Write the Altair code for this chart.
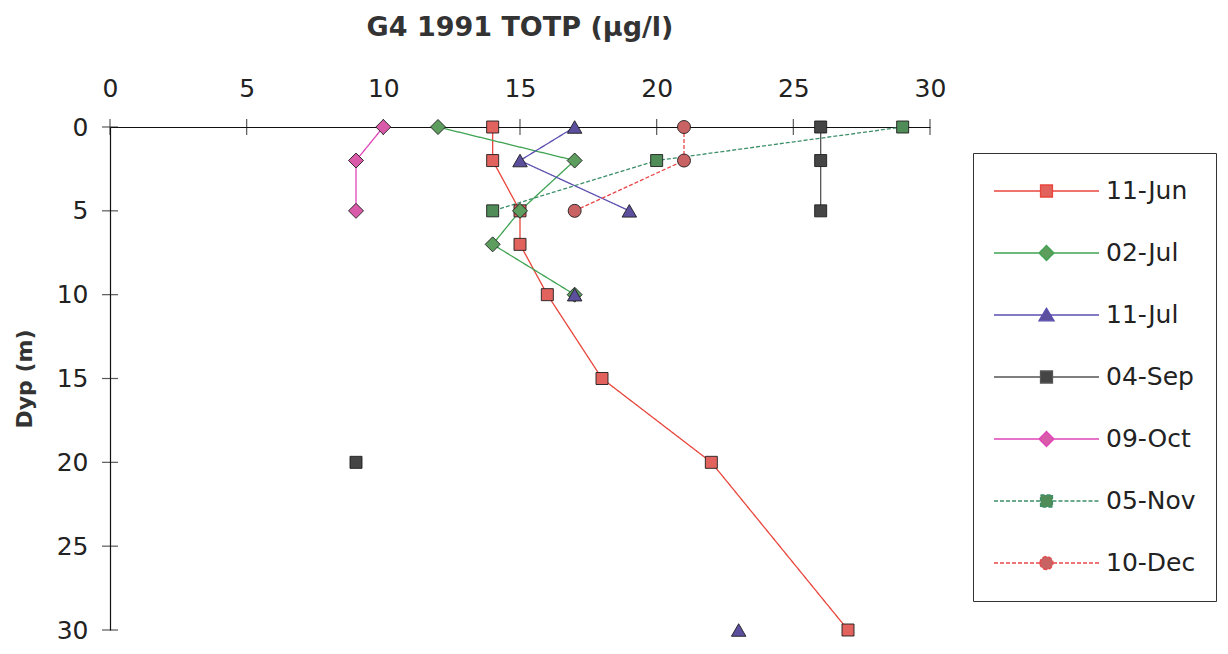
import altair as alt
import pandas as pd

# ---------------- data ----------------
depths = [0, 2, 5, 7, 10, 15, 20, 30]
series_names = ["11-Jun", "02-Jul", "11-Jul", "04-Sep", "09-Oct", "05-Nov", "10-Dec"]
jun11 = [14, 14, 15, 15, 16, 18, 22, 27]
jul02 = [12, 17, 15, 14, 17, None, None, None]
jul11 = [17, 15, 19, None, 17, None, None, 23]
sep04 = [26, 26, 26, None, None, None, 9, None]
oct09 = [10, 9, 9, None, None, None, None, None]
nov05 = [29, 20, 14, None, None, None, None, None]
dec10 = [21, 21, 17, None, None, None, None, None]
x_ticks = [0, 5, 10, 15, 20, 25, 30]
y_ticks = [0, 5, 10, 15, 20, 25, 30]
title_text = "G4 1991 TOTP (µg/l)"
y_title = "Dyp (m)"

# ---------------- styles ----------------
line_colors = ["#e8463c", "#3fa352", "#5a4fb0", "#555555", "#e044b8", "#3d8f6a", "#e8484a"]
fill_colors = ["#e2625e", "#5d9e5e", "#5b4f9e", "#454545", "#d85aa8", "#4f8c58", "#c96262"]
dashes = [[1, 0], [1, 0], [1, 0], [1, 0], [1, 0], [4, 2], [4, 2]]
markers = ["square", "diamond", "triangle-up", "square", "diamond", "square", "circle"]
marker_sizes = {"square": 144, "diamond": 225, "triangle-up": 210, "circle": 169}
legend_paths = {
    "square": "M-1,0H-0.114M-0.114,-0.114H0.114V0.114H-0.114ZM0.114,0H1",
    "diamond": "M-1,0H-0.143M0,-0.143L0.143,0L0,0.143L-0.143,0ZM0.143,0H1",
    "triangle-up": "M-1,0H-0.075M0,-0.13L0.143,0.11L-0.143,0.11ZM0.075,0H1",
    "circle": ("M-1,0H-0.124M-0.124,0C-0.124,-0.0685,-0.0685,-0.124,0,-0.124"
               "C0.0685,-0.124,0.124,-0.0685,0.124,0C0.124,0.0685,0.0685,0.124,0,0.124"
               "C-0.0685,0.124,-0.124,0.0685,-0.124,0ZM0.124,0H1"),
}
FONT = "DejaVu Sans"

values = [jun11, jul02, jul11, sep04, oct09, nov05, dec10]
rows = []
for name, vals, mk in zip(series_names, values, markers):
    seg = 0
    prev_none = False
    for d, v in zip(depths, vals):
        if v is None:
            prev_none = True
            continue
        if prev_none:
            seg += 1
            prev_none = False
        rows.append({"series": name, "depth": d, "totp": v, "marker": mk,
                     "seg": f"{name}-{seg}"})
df = pd.DataFrame(rows)
ticks_df = pd.DataFrame({"v": x_ticks})
yticks_df = pd.DataFrame({"v": y_ticks})

stroke_scale = alt.Scale(domain=series_names, range=line_colors)
fill_scale = alt.Scale(domain=series_names, range=fill_colors)
dash_scale = alt.Scale(domain=series_names, range=dashes)
shape_scale = alt.Scale(domain=series_names, range=[legend_paths[m] for m in markers])

x_scale = alt.Scale(domain=[0, 30], nice=False, zero=False)
y_scale = alt.Scale(domain=[0, 30], reverse=True, nice=False, zero=False)

x_enc = alt.X("totp:Q", scale=x_scale,
              axis=alt.Axis(orient="top", values=x_ticks, title=None, grid=False,
                            ticks=False, tickSize=0, labelPadding=26, labelFontSize=25,
                            labelFlush=False, labelFont=FONT, labelColor="#222",
                            domainColor="#111", domainWidth=1.2))
y_enc = alt.Y("depth:Q", scale=y_scale,
              axis=alt.Axis(values=y_ticks, title=y_title, grid=False, ticks=False,
                            tickSize=0, labelPadding=22, labelFontSize=25, labelFont=FONT,
                            labelFlush=False, labelColor="#222", domainColor="#111",
                            domainWidth=1.2, titleFont=FONT, titleFontSize=22,
                            titleFontWeight="bold", titleColor="#333", titlePadding=20))

leg = dict(title=None, orient="none", legendX=863, legendY=26, padding=20,
           clipHeight=36, rowPadding=26, symbolSize=11025, symbolStrokeWidth=1.3,
           labelFontSize=25, labelFont=FONT, labelColor="#222", labelOffset=6,
           strokeColor="#333", fillColor="white", symbolOffset=0)

legend_layer = alt.Chart(df).transform_filter("datum.depth < 0").mark_point(
    filled=True, opacity=1).encode(
    x=x_enc, y=y_enc,
    fill=alt.Fill("series:N", scale=fill_scale, legend=alt.Legend(**leg)),
    stroke=alt.Stroke("series:N", scale=stroke_scale, legend=alt.Legend(**leg)),
    shape=alt.Shape("series:N", scale=shape_scale, legend=alt.Legend(**leg)),
    strokeDash=alt.StrokeDash("series:N", scale=dash_scale, legend=alt.Legend(**leg)),
)

lines = alt.Chart(df).mark_line(strokeWidth=1.3).encode(
    x="totp:Q", y="depth:Q",
    stroke=alt.Stroke("series:N", scale=stroke_scale, legend=None),
    strokeDash=alt.StrokeDash("series:N", scale=dash_scale, legend=None),
    detail="seg:N",
    order="depth:Q",
)

point_layers = []
for m in ["square", "diamond", "triangle-up", "circle"]:
    point_layers.append(
        alt.Chart(df).transform_filter(alt.datum.marker == m)
        .mark_point(shape=m, filled=True, size=marker_sizes[m], stroke="#1e1e1e",
                    strokeWidth=0.9, opacity=1)
        .encode(x="totp:Q", y="depth:Q",
                fill=alt.Fill("series:N", scale=fill_scale, legend=None))
    )

xticks = alt.Chart(ticks_df).mark_tick(orient="vertical", size=16, thickness=1.2,
                                       color="#111").encode(x="v:Q", y=alt.datum(0))
yticks = alt.Chart(yticks_df).mark_tick(orient="horizontal", size=16, thickness=1.2,
                                        color="#111").encode(x=alt.datum(0), y="v:Q")

chart = alt.layer(legend_layer, lines, xticks, yticks, *point_layers).properties(
    width=820, height=503,
    title=alt.TitleParams(title_text, font=FONT, fontSize=27, fontWeight="bold",
                          color="#333", anchor="middle", offset=34),
    padding={"left": 102, "top": 119, "right": 290, "bottom": 15},
    autosize=alt.AutoSizeParams(type="none"),
).configure_view(stroke=None)

chart.save("out.html", embed_options={"renderer": "svg", "actions": False})
